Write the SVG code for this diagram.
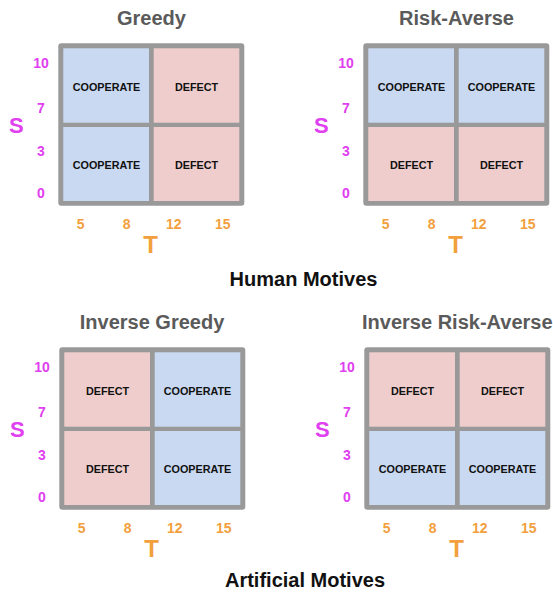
<svg xmlns="http://www.w3.org/2000/svg" width="553" height="594" viewBox="0 0 553 594">
<style>
  .title { font-family: "Liberation Sans", Arial, sans-serif; font-weight: bold; font-size: 20px; fill: #5a5a5a; text-anchor: middle; }
  .section { font-family: "Liberation Sans", Arial, sans-serif; font-weight: bold; font-size: 20px; fill: #111111; text-anchor: middle; }
  .frame { fill: #999999; }
  .coop { fill: #c9d9f2; }
  .defect { fill: #eecdcc; }
  .cell-label { font-family: "Liberation Sans", Arial, sans-serif; font-weight: bold; font-size: 10.8px; fill: #111111; text-anchor: middle; }
  .snum { font-family: "Liberation Sans", Arial, sans-serif; font-weight: bold; font-size: 14px; fill: #e040f0; text-anchor: middle; }
  .saxis { font-family: "Liberation Sans", Arial, sans-serif; font-weight: bold; font-size: 22px; fill: #e040f0; text-anchor: middle; }
  .tnum { font-family: "Liberation Sans", Arial, sans-serif; font-weight: bold; font-size: 14px; fill: #f2a03d; text-anchor: middle; }
  .taxis { font-family: "Liberation Sans", Arial, sans-serif; font-weight: bold; font-size: 24px; fill: #f2a03d; text-anchor: middle; }
</style>
<defs>
  <g id="axes">
    <text class="snum" x="41" y="68.3">10</text>
    <text class="snum" x="41" y="113.3">7</text>
    <text class="snum" x="41" y="156">3</text>
    <text class="snum" x="41" y="198.3">0</text>
    <text class="saxis" x="16.3" y="133.3">S</text>
    <text class="tnum" x="80.7" y="229">5</text>
    <text class="tnum" x="126.7" y="229">8</text>
    <text class="tnum" x="173.8" y="229">12</text>
    <text class="tnum" x="222.8" y="229">15</text>
    <text class="taxis" x="150.5" y="253.3">T</text>
  </g>
</defs>
<rect width="553" height="594" fill="#ffffff"/>

<g id="panel-greedy">
  <text class="title" x="151.5" y="25">Greedy</text>
  <rect class="frame" x="58.3" y="43.3" width="186" height="162.4" rx="3"/>
  <g id="greedy-tl"><rect class="coop" x="63.3" y="48.3" width="85.7" height="74.4"/><text class="cell-label" x="106.5" y="90.5">COOPERATE</text></g>
  <g id="greedy-tr"><rect class="defect" x="153.7" y="48.3" width="85.6" height="74.4"/><text class="cell-label" x="196.5" y="90.5">DEFECT</text></g>
  <g id="greedy-bl"><rect class="coop" x="63.3" y="127" width="85.7" height="74"/><text class="cell-label" x="106.5" y="169">COOPERATE</text></g>
  <g id="greedy-br"><rect class="defect" x="153.7" y="127" width="85.6" height="74"/><text class="cell-label" x="196.5" y="169">DEFECT</text></g>
  <use href="#axes"/>
</g>

<g id="panel-risk-averse" transform="translate(305,0)">
  <text class="title" x="151.5" y="25">Risk-Averse</text>
  <rect class="frame" x="58.3" y="43.3" width="186" height="162.4" rx="3"/>
  <g id="risk-tl"><rect class="coop" x="63.3" y="48.3" width="85.7" height="74.4"/><text class="cell-label" x="106.5" y="90.5">COOPERATE</text></g>
  <g id="risk-tr"><rect class="coop" x="153.7" y="48.3" width="85.6" height="74.4"/><text class="cell-label" x="196.5" y="90.5">COOPERATE</text></g>
  <g id="risk-bl"><rect class="defect" x="63.3" y="127" width="85.7" height="74"/><text class="cell-label" x="106.5" y="169">DEFECT</text></g>
  <g id="risk-br"><rect class="defect" x="153.7" y="127" width="85.6" height="74"/><text class="cell-label" x="196.5" y="169">DEFECT</text></g>
  <use href="#axes"/>
</g>

<g id="label-human">
  <text class="section" x="303.5" y="286">Human Motives</text>
</g>

<g id="panel-inverse-greedy" transform="translate(1,304)">
  <text class="title" x="151" y="24.5">Inverse Greedy</text>
  <rect class="frame" x="58.3" y="43.3" width="186" height="162.4" rx="3"/>
  <g id="igreedy-tl"><rect class="defect" x="63.3" y="48.3" width="85.7" height="74.4"/><text class="cell-label" x="106.5" y="90.5">DEFECT</text></g>
  <g id="igreedy-tr"><rect class="coop" x="153.7" y="48.3" width="85.6" height="74.4"/><text class="cell-label" x="196.5" y="90.5">COOPERATE</text></g>
  <g id="igreedy-bl"><rect class="defect" x="63.3" y="127" width="85.7" height="74"/><text class="cell-label" x="106.5" y="169">DEFECT</text></g>
  <g id="igreedy-br"><rect class="coop" x="153.7" y="127" width="85.6" height="74"/><text class="cell-label" x="196.5" y="169">COOPERATE</text></g>
  <use href="#axes"/>
</g>

<g id="panel-inverse-risk-averse" transform="translate(306,304)">
  <text class="title" x="151.3" y="24.5">Inverse Risk-Averse</text>
  <rect class="frame" x="58.3" y="43.3" width="186" height="162.4" rx="3"/>
  <g id="irisk-tl"><rect class="defect" x="63.3" y="48.3" width="85.7" height="74.4"/><text class="cell-label" x="106.5" y="90.5">DEFECT</text></g>
  <g id="irisk-tr"><rect class="defect" x="153.7" y="48.3" width="85.6" height="74.4"/><text class="cell-label" x="196.5" y="90.5">DEFECT</text></g>
  <g id="irisk-bl"><rect class="coop" x="63.3" y="127" width="85.7" height="74"/><text class="cell-label" x="106.5" y="169">COOPERATE</text></g>
  <g id="irisk-br"><rect class="coop" x="153.7" y="127" width="85.6" height="74"/><text class="cell-label" x="196.5" y="169">COOPERATE</text></g>
  <use href="#axes"/>
</g>

<g id="label-artificial">
  <text class="section" x="305" y="586.7">Artificial Motives</text>
</g>

<g id="connectors"></g>
</svg>
